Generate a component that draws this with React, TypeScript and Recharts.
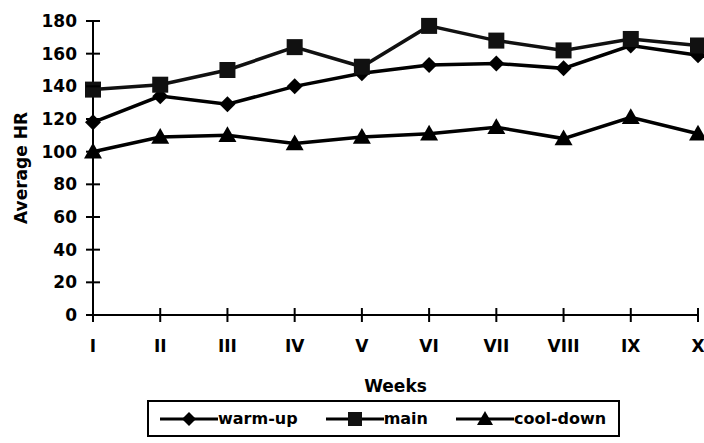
import { LineChart, Line, XAxis, YAxis, Legend, Label } from 'recharts';

const weeks = ['I', 'II', 'III', 'IV', 'V', 'VI', 'VII', 'VIII', 'IX', 'X'];
const warmUp = [118, 134, 129, 140, 148, 153, 154, 151, 165, 159];
const mainPart = [138, 141, 150, 164, 152, 177, 168, 162, 169, 165];
const coolDown = [100, 109, 110, 105, 109, 111, 115, 108, 121, 111];
const yTicks = [0, 20, 40, 60, 80, 100, 120, 140, 160, 180];

const data = weeks.map((week, i) => ({
  week,
  warmUp: warmUp[i],
  main: mainPart[i],
  coolDown: coolDown[i],
}));

const FONT = '"DejaVu Sans", Arial, sans-serif';

const Diamond = ({ cx, cy, r = 8 }: any) => (
  <polygon points={`${cx},${cy - r} ${cx + r},${cy} ${cx},${cy + r} ${cx - r},${cy}`} fill="#000" />
);
const Square = ({ cx, cy, r = 8 }: any) => (
  <rect x={cx - r} y={cy - r} width={r * 2} height={r * 2} fill="#111" />
);
const Triangle = ({ cx, cy, r = 9 }: any) => (
  <polygon points={`${cx},${cy - r} ${cx + r},${cy + r * 0.75} ${cx - r},${cy + r * 0.75}`} fill="#000" />
);

const YTick = ({ x, y, payload }: any) => (
  <g>
    <line x1={x - 7} x2={x + 7} y1={y} y2={y} stroke="#000" strokeWidth={2} />
    <text x={x - 16} y={y + 6} textAnchor="end" fontFamily={FONT} fontWeight="bold" fontSize={17} fill="#000">
      {payload.value}
    </text>
  </g>
);

const XTick = ({ x, y, payload }: any) => (
  <g>
    <line x1={x} x2={x} y1={y - 7} y2={y + 7} stroke="#000" strokeWidth={2} />
    <text x={x} y={y + 37} textAnchor="middle" fontFamily={FONT} fontWeight="bold" fontSize={17} fill="#000">
      {payload.value}
    </text>
  </g>
);

const legendItems = [
  { label: 'warm-up', Shape: Diamond, r: 7 },
  { label: 'main', Shape: Square, r: 7 },
  { label: 'cool-down', Shape: Triangle, r: 8 },
];

const LegendBox = () => (
  <div
    style={{
      marginLeft: 147,
      width: 473,
      height: 37,
      boxSizing: 'border-box',
      border: '2px solid #000',
      display: 'flex',
      alignItems: 'center',
      paddingLeft: 11,
      gap: 28,
      fontFamily: FONT,
      fontWeight: 'bold',
      fontSize: 16,
      color: '#000',
    }}
  >
    {legendItems.map(({ label, Shape, r }) => (
      <div key={label} style={{ display: 'flex', alignItems: 'center' }}>
        <svg width={58} height={20}>
          <line x1={0} x2={58} y1={10} y2={10} stroke="#000" strokeWidth={3} />
          <Shape cx={29} cy={10} r={r} />
        </svg>
        <span>{label}</span>
      </div>
    ))}
  </div>
);

const App = () => (
  <div style={{ position: 'absolute', left: 0, top: 0, background: '#fff' }}>
    <LineChart width={704} height={443} data={data} margin={{ top: 21, right: 6, left: 0, bottom: 6 }}>
      <XAxis
        dataKey="week"
        height={85}
        tick={<XTick />}
        tickLine={false}
        tickSize={0}
        tickMargin={0}
        axisLine={{ stroke: '#000', strokeWidth: 2 }}
      >
        <Label
          value="Weeks"
          position="insideBottom"
          offset={8}
          style={{ fontFamily: FONT, fontWeight: 'bold', fontSize: 17, fill: '#000' }}
        />
      </XAxis>
      <YAxis
        width={93}
        domain={[0, 180]}
        ticks={yTicks}
        tick={<YTick />}
        tickLine={false}
        tickSize={0}
        tickMargin={0}
        axisLine={{ stroke: '#000', strokeWidth: 2 }}
      >
        <Label
          value="Average HR"
          angle={-90}
          position="insideLeft"
          offset={21}
          style={{ textAnchor: 'middle', fontFamily: FONT, fontWeight: 'bold', fontSize: 17, fill: '#000' }}
        />
      </YAxis>
      <Legend verticalAlign="bottom" height={37} content={<LegendBox />} />
      <Line
        dataKey="warmUp"
        name="warm-up"
        stroke="#000"
        strokeWidth={3.5}
        dot={(p: any) => <Diamond key={p.index} cx={p.cx} cy={p.cy} r={8} />}
        isAnimationActive={false}
      />
      <Line
        dataKey="main"
        name="main"
        stroke="#111"
        strokeWidth={3.5}
        dot={(p: any) => <Square key={p.index} cx={p.cx} cy={p.cy} r={8} />}
        isAnimationActive={false}
      />
      <Line
        dataKey="coolDown"
        name="cool-down"
        stroke="#000"
        strokeWidth={3.5}
        dot={(p: any) => <Triangle key={p.index} cx={p.cx} cy={p.cy} r={9} />}
        isAnimationActive={false}
      />
    </LineChart>
  </div>
);

export default App;
